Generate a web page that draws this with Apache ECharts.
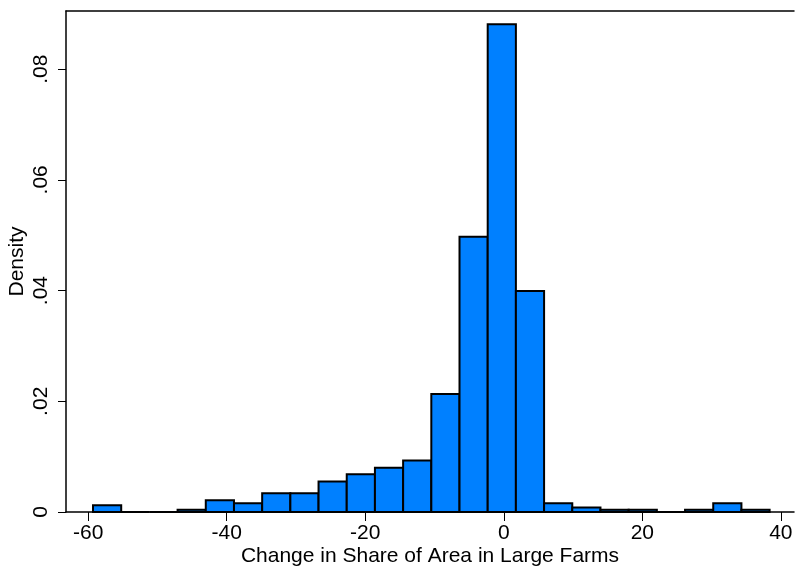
<!DOCTYPE html>
<html>
<head>
<meta charset="utf-8">
<script src="https://cdn.jsdelivr.net/npm/echarts@6/dist/echarts.min.js"></script>
<style>
  html, body { margin: 0; padding: 0; background: #fff; }
  #chart { width: 795px; height: 568px; }
</style>
</head>
<body>
<div id="chart"></div>
<script>
// Histogram bin edges (change in share of area in large farms, percentage points)
const binEdges = [-59.30, -55.23, -51.16, -47.09, -43.02, -38.95, -34.88, -30.81,
  -26.74, -22.67, -18.60, -14.53, -10.46, -6.39, -2.32, 1.75, 5.82, 9.89,
  13.96, 18.03, 22.10, 26.17, 30.24, 34.31, 38.38];
// Density of each bin
const density = [0.0012, 0, 0, 0.0004, 0.0021, 0.0016, 0.0034, 0.0034, 0.0055,
  0.0068, 0.0080, 0.0093, 0.0213, 0.0497, 0.0881, 0.0399, 0.0016, 0.0008,
  0.0004, 0.0004, 0, 0.0004, 0.0016, 0.0004];
const xTicks = [-60, -40, -20, 0, 20, 40];
const yTicks = [0, 0.02, 0.04, 0.06, 0.08];
const xTitle = 'Change in Share of Area in Large Farms';
const yTitle = 'Density';

const font = 'Liberation Sans, Arial, sans-serif';
const bins = density.map((d, i) => [binEdges[i], binEdges[i + 1], d]);

const chart = echarts.init(document.getElementById('chart'), null, { renderer: 'canvas' });
chart.setOption({
  animation: false,
  backgroundColor: '#fff',
  grid: { left: 66, right: 1, top: 11, bottom: 56, containLabel: false, outerBoundsMode: 'none' },
  xAxis: [{
    type: 'value',
    min: -63.2, max: 41.9,
    name: xTitle,
    nameLocation: 'middle',
    nameGap: 34,
    nameMoveOverlap: false,
    nameTextStyle: { fontFamily: font, fontSize: 21, color: '#000' },
    axisLine: { show: true, onZero: false, lineStyle: { color: '#000', width: 1.5 } },
    axisTick: { show: true, length: 9, customValues: xTicks, lineStyle: { color: '#000', width: 1 } },
    axisLabel: {
      customValues: xTicks, margin: 11,
      fontFamily: font, fontSize: 21, color: '#000'
    },
    splitLine: { show: false }
  }, {
    type: 'value', position: 'top',
    min: -63.2, max: 41.9,
    axisLine: { show: true, onZero: false, lineStyle: { color: '#000', width: 1.5 } },
    axisTick: { show: false }, axisLabel: { show: false }, splitLine: { show: false }
  }],
  yAxis: {
    type: 'value',
    min: 0, max: 0.0905,
    name: yTitle,
    nameLocation: 'middle',
    nameRotate: 90,
    nameGap: 38,
    nameMoveOverlap: false,
    nameTextStyle: { fontFamily: font, fontSize: 21, color: '#000' },
    axisLine: { show: true, onZero: false, lineStyle: { color: '#000', width: 1.5 } },
    axisTick: { show: true, length: 8, customValues: yTicks, lineStyle: { color: '#000', width: 1 } },
    axisLabel: {
      customValues: yTicks, rotate: 90, margin: 14,
      fontFamily: font, fontSize: 21, color: '#000',
      formatter: v => v === 0 ? '0' : ('.' + v.toFixed(2).split('.')[1])
    },
    splitLine: { show: false }
  },
  series: [{
    type: 'custom',
    xAxisIndex: 0,
    data: bins,
    encode: { x: [0, 1], y: 2 },
    renderItem: (params, api) => {
      const p0 = api.coord([api.value(0), api.value(2)]);
      const p1 = api.coord([api.value(1), 0]);
      return {
        type: 'rect',
        shape: { x: p0[0], y: p0[1], width: p1[0] - p0[0], height: p1[1] - p0[1] },
        style: { fill: '#0080ff', stroke: '#000', lineWidth: 2 }
      };
    }
  }]
});
</script>
</body>
</html>
